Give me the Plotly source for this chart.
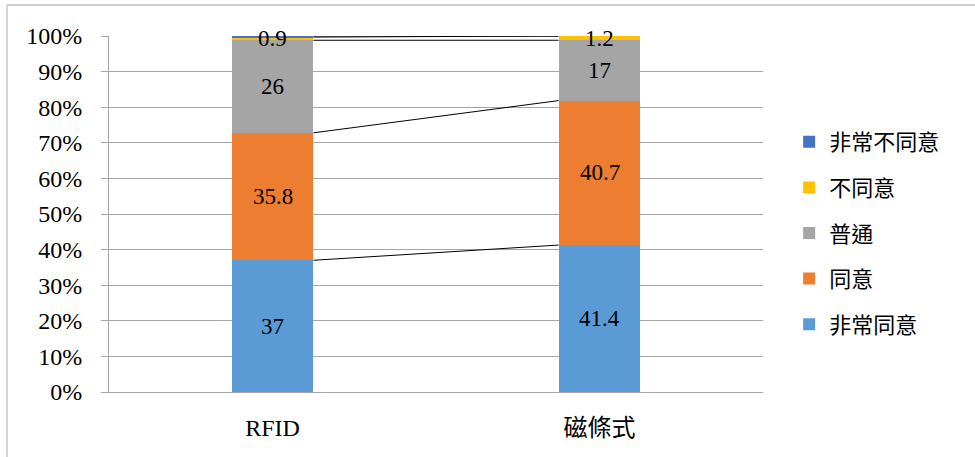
import plotly.graph_objects as go

categories = ["RFID", "磁條式"]
series_names = ["非常同意", "同意", "普通", "不同意", "非常不同意"]
very_agree = [37, 41.4]
agree = [35.8, 40.7]
neutral = [26, 17]
disagree = [0.9, 1.2]
very_disagree = [0.3, 0]
labelled = [True, True, True, True, False]
colors = ["#5B9BD5", "#ED7D31", "#A5A5A5", "#FFC000", "#4472C4"]
y_ticks = [0, 10, 20, 30, 40, 50, 60, 70, 80, 90, 100]
y_tick_text = [f"{v}%" for v in y_ticks]

series_values = [very_agree, agree, neutral, disagree, very_disagree]

serif = "Liberation Serif, Times New Roman, serif"
cjk = "Noto Sans CJK TC, Noto Sans CJK SC, sans-serif"

fig = go.Figure()
n = len(series_names)
for k, (name, vals, col) in enumerate(zip(series_names, series_values, colors)):
    # top segment listed first in the legend
    fig.add_trace(go.Bar(x=categories, y=vals, name=name, marker_color=col,
                         marker_line_width=0, legendgroup=name, legendrank=n - k))

# percentage stacking: normalise each column to 100
totals = [sum(s[i] for s in series_values) for i in range(len(categories))]
cum = [[0.0] * len(categories)]
for s in series_values:
    cum.append([cum[-1][i] + s[i] / totals[i] * 100 for i in range(len(categories))])

bar_w = 0.25
half = bar_w / 2
# series lines joining the tops of each segment
for k in range(1, len(cum)):
    fig.add_shape(type="line", xref="x", yref="y",
                  x0=0 + half, y0=cum[k][0], x1=1 - half, y1=cum[k][1],
                  line=dict(color="black", width=1), layer="above")

# value labels centred in each segment
for k, (vals, show) in enumerate(zip(series_values, labelled)):
    if not show:
        continue
    for i, cat in enumerate(categories):
        mid = (cum[k][i] + cum[k + 1][i]) / 2
        fig.add_annotation(x=i, y=mid, xref="x", yref="y", text=f"{vals[i]:g}",
                           showarrow=False, font=dict(family=serif, size=23, color="black"))

l, r, t, b = 109, 212, 36, 65
pw, ph = 975 - l - r, 457 - t - b
fig.add_shape(type="rect", xref="paper", yref="paper",
              x0=(7 - l) / pw, x1=(990 - l) / pw, y0=-(480 - (457 - b)) / ph, y1=1 + (t - 5) / ph,
              line=dict(color="#BFBFBF", width=1.3), fillcolor="rgba(0,0,0,0)", layer="below")

fig.update_layout(
    barmode="stack",
    barnorm="percent",
    bargap=1 - bar_w,
    width=975, height=457,
    margin=dict(l=l, r=r, t=t, b=b),
    paper_bgcolor="white", plot_bgcolor="white",
    showlegend=True,
    legend=dict(traceorder="grouped", x=1.04, y=(457 - b - 233) / ph, yanchor="middle", xanchor="left",
                font=dict(family=cjk, size=22, color="black"), itemwidth=30,
                tracegroupgap=14, bgcolor="rgba(0,0,0,0)"),
    xaxis=dict(type="category", range=[-0.5, 1.5], showline=True, linecolor="#A6A6A6", linewidth=1,
               ticks="", tickfont=dict(family=serif + ", " + cjk, size=24, color="black"),
               ticklabelstandoff=14, showgrid=False, zeroline=False),
    yaxis=dict(range=[0, 100], tickvals=y_ticks, ticktext=y_tick_text,
               showline=True, linecolor="#A6A6A6", linewidth=1,
               ticks="outside", ticklen=7, tickcolor="#A6A6A6",
               showgrid=True, gridcolor="#A6A6A6", gridwidth=1, zeroline=False,
               ticklabelstandoff=14,
               tickfont=dict(family=serif, size=24, color="black")),
)

fig.write_html("out.html")
